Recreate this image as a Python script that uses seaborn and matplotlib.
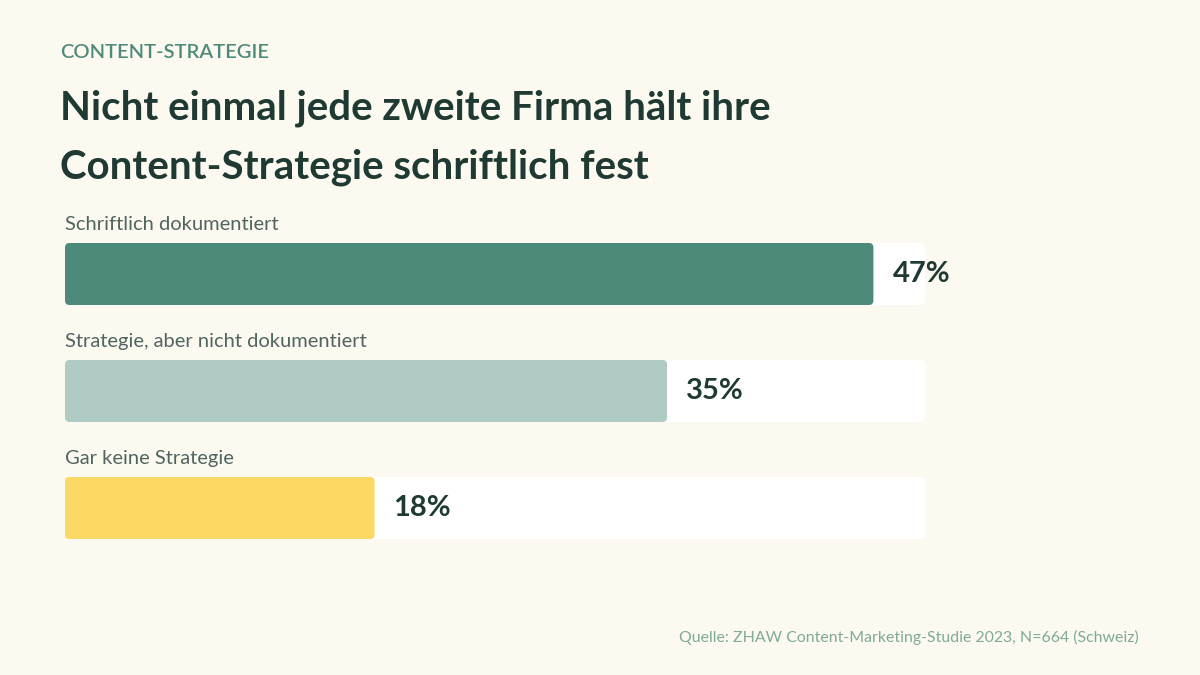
import matplotlib
matplotlib.use("Agg")
import matplotlib.pyplot as plt
import seaborn as sns
import pandas as pd
from matplotlib.patches import FancyBboxPatch

categories = ["Schriftlich dokumentiert", "Strategie, aber nicht dokumentiert", "Gar keine Strategie"]
values = [47, 35, 18]
value_labels = ["47%", "35%", "18%"]
scale_max = 50
bar_colors = ["#4E8A7A", "#B0CBC4", "#FCD865"]

eyebrow = "CONTENT-STRATEGIE"
title_lines = ["Nicht einmal jede zweite Firma hält ihre", "Content-Strategie schriftlich fest"]
source = "Quelle: ZHAW Content-Marketing-Studie 2023, N=664 (Schweiz)"

BG = "#FCF9F0"
DARK = "#1E3A32"

sns.set_theme(style="white")
plt.rcParams['font.family'] = ['Lato', 'DejaVu Sans']

df = pd.DataFrame({"cat": categories, "val": values, "track": [scale_max] * len(values)})

fig = plt.figure(figsize=(12, 6.75), dpi=100)
fig.patch.set_facecolor(BG)

W, H = 1200, 675
ax_left, ax_right = 65, 925
ax_top, ax_bottom = 243, 539
ax = fig.add_axes([ax_left / W, 1 - ax_bottom / H, (ax_right - ax_left) / W, (ax_bottom - ax_top) / H])
ax.set_facecolor(BG)

bar_h = 62 / 117
sns.barplot(data=df, y="cat", x="track", color="white", width=bar_h, ax=ax, orient="h")
sns.barplot(data=df, y="cat", x="val", hue="cat", palette=bar_colors, width=bar_h, ax=ax,
            orient="h", legend=False, saturation=1)

ax.set_xlim(0, scale_max)
ax.set_ylim(2 + bar_h / 2, -bar_h / 2)
ax.set_axis_off()

# rounded corners
px_x = (ax_right - ax_left) / scale_max  # px per x unit
px_y = 117.0  # px per y unit
r_px = 4.5
aspect = px_x / px_y
patches = list(ax.patches)
for p in patches:
    x0, y0 = p.get_x(), p.get_y()
    w, h = p.get_width(), p.get_height()
    fc = p.get_facecolor()
    z = p.get_zorder()
    p.remove()
    fb = FancyBboxPatch((x0, y0), w, h,
                        boxstyle=f"round,pad=0,rounding_size={r_px / px_x}",
                        mutation_aspect=aspect, facecolor=fc, edgecolor="none", zorder=z,
                        clip_on=False)
    ax.add_patch(fb)

for i, (v, lab, cat) in enumerate(zip(values, value_labels, categories)):
    ax.text(v + 19 / px_x, i, lab, ha="left", va="center", fontsize=21, fontweight="bold",
            color=DARK, zorder=5)
    ax.text(0, i - bar_h / 2 - 10 / px_y, cat, ha="left", va="bottom", fontsize=14.5,
            fontweight="normal", color="#506560", clip_on=False)

fig.text(60 / W, 1 - 52 / H, eyebrow, ha="left", va="center", fontsize=14.5, fontweight="semibold",
         color="#4E8A7A")
fig.text(60 / W, 1 - 108 / H, title_lines[0], ha="left", va="center", fontsize=29,
         fontweight="bold", color=DARK)
fig.text(60 / W, 1 - 167 / H, title_lines[1], ha="left", va="center", fontsize=29,
         fontweight="bold", color=DARK)
fig.text(1139 / W, 1 - 637 / H, source, ha="right", va="center", fontsize=11.4,
         fontweight="normal", color="#7FAA98")

fig.savefig("out.png", dpi=100, facecolor=BG)
